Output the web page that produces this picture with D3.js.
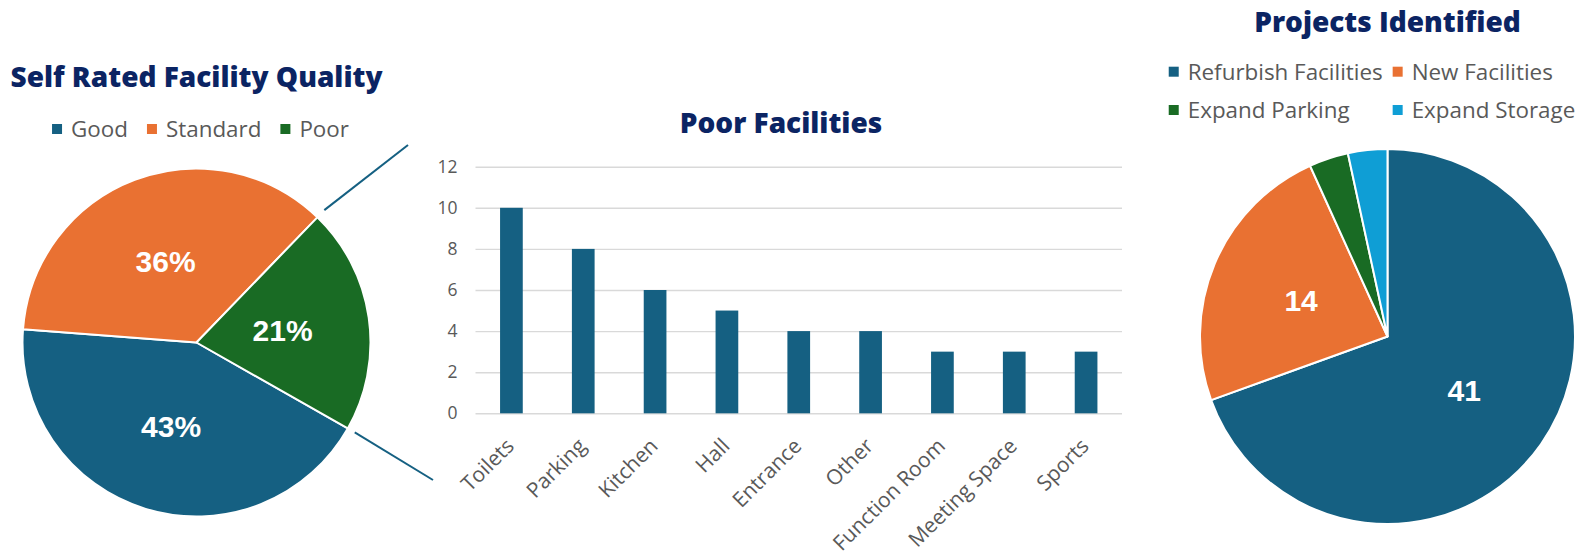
<!DOCTYPE html>
<html>
<head>
<meta charset="utf-8">
<script src="https://cdn.jsdelivr.net/npm/d3@7"></script>
<style>
  html, body { margin: 0; padding: 0; background: #ffffff; }
  svg { display: block; font-family: "Open Sans", "Noto Sans", sans-serif; }
</style>
</head>
<body>
<svg id="chart" width="1583" height="556"></svg>
<script>
// ---- Self rated facility quality (percent of respondents)
const qualityLabels = ["Good", "Standard", "Poor"];
const qualityShares = [43, 36, 21];
const qualityColors = ["#156082", "#E97132", "#196B24"];

// ---- Breakdown of facilities rated poor
const facilityNames = ["Toilets", "Parking", "Kitchen", "Hall", "Entrance", "Other", "Function Room", "Meeting Space", "Sports"];
const facilityCounts = [10, 8, 6, 5, 4, 4, 3, 3, 3];
const countTicks = [0, 2, 4, 6, 8, 10, 12];

// ---- Projects identified (number of projects)
const projectLabels = ["Refurbish Facilities", "New Facilities", "Expand Parking", "Expand Storage"];
const projectCounts = [41, 14, 2, 2];
const projectColors = ["#156082", "#E97132", "#196B24", "#0F9ED5"];

const TITLE_COLOR = "#0b2463";
const TEXT_COLOR = "#595959";
const GRID_COLOR = "#d9d9d9";
const BAR_COLOR = "#156082";
const LEGEND_SIZE = 22.4;
const deg = Math.PI / 180;

const svg = d3.select("#chart");
svg.append("rect").attr("width", 1583).attr("height", 556).attr("fill", "#fff");

function title(text, x, y) {
  svg.append("text")
    .attr("x", x).attr("y", y)
    .attr("text-anchor", "middle")
    .attr("font-size", 28).attr("font-weight", 800)
    .attr("fill", TITLE_COLOR)
    .text(text);
}

// Legend row: square swatch + label, laid out from measured text widths
function legendRow(g, labels, colors, cx, cy, gap) {
  const items = g.selectAll("g.item").data(labels).join("g").attr("class", "item");
  items.append("rect").attr("width", 10).attr("height", 10).attr("y", -5)
    .attr("fill", (d, i) => colors[i]);
  items.append("text").attr("x", 19).attr("dy", "0.36em")
    .attr("font-size", LEGEND_SIZE).attr("fill", TEXT_COLOR).text(d => d);
  const widths = [];
  items.each(function () { widths.push(19 + this.querySelector("text").getComputedTextLength()); });
  const total = d3.sum(widths) + gap * (labels.length - 1);
  let x = cx - total / 2;
  items.attr("transform", (d, i) => {
    const t = `translate(${x},${cy})`;
    x += widths[i] + gap;
    return t;
  });
}

// Two-column legend grid
function legendGrid(g, labels, colors, cx, rowYs, colGap) {
  const items = g.selectAll("g.item").data(labels).join("g").attr("class", "item");
  items.append("rect").attr("width", 10).attr("height", 10).attr("y", -5)
    .attr("fill", (d, i) => colors[i]);
  items.append("text").attr("x", 19).attr("dy", "0.36em")
    .attr("font-size", LEGEND_SIZE).attr("fill", TEXT_COLOR).text(d => d);
  const widths = [];
  items.each(function () { widths.push(19 + this.querySelector("text").getComputedTextLength()); });
  const col0 = d3.max(widths.filter((w, i) => i % 2 === 0));
  const col1 = d3.max(widths.filter((w, i) => i % 2 === 1));
  const total = col0 + colGap + col1;
  const x0 = cx - total / 2;
  items.attr("transform", (d, i) =>
    `translate(${i % 2 === 0 ? x0 : x0 + col0 + colGap},${rowYs[Math.floor(i / 2)]})`);
}

// ================= Left: Self Rated Facility Quality =================
const q = { cx: 196.5, cy: 342.5, r: 174 };
title("Self Rated Facility Quality", q.cx, 87);
legendRow(svg.append("g"), qualityLabels, qualityColors, 200.5, 129, 19);

const qStart = 119.6 * deg;
const qPie = d3.pie().sort(null).value(d => d)
  .startAngle(qStart).endAngle(qStart + 2 * Math.PI);
const qArcs = qPie(qualityShares);
const qArc = d3.arc().innerRadius(0).outerRadius(q.r);

const gq = svg.append("g").attr("transform", `translate(${q.cx},${q.cy})`);
gq.selectAll("path").data(qArcs).join("path")
  .attr("d", qArc)
  .attr("fill", (d, i) => qualityColors[i])
  .attr("stroke", "#fff").attr("stroke-width", 2).attr("stroke-linejoin", "round");

gq.selectAll("text.val").data(qArcs).join("text").attr("class", "val")
  .attr("transform", d => `translate(${qArc.centroid(d)})`)
  .attr("text-anchor", "middle").attr("dy", "0.36em")
  .attr("font-family", "'Liberation Sans', Arial, sans-serif")
  .attr("font-size", 30).attr("font-weight", 700).attr("fill", "#fff")
  .text(d => d.data + "%");

// connector lines from the "Poor" slice toward the bar chart
const poor = qArcs[2];
const edgePt = (a, rr) => [q.cx + rr * Math.sin(a), q.cy - rr * Math.cos(a)];
const connectors = [
  [edgePt(poor.startAngle, q.r + 10), [408, 145]],
  [edgePt(poor.endAngle, q.r + 8), [433, 480]]
];
svg.selectAll("line.conn").data(connectors).join("line").attr("class", "conn")
  .attr("x1", d => d[0][0]).attr("y1", d => d[0][1])
  .attr("x2", d => d[1][0]).attr("y2", d => d[1][1])
  .attr("stroke", BAR_COLOR).attr("stroke-width", 2);

// ================= Middle: Poor Facilities =================
title("Poor Facilities", 781, 133);
const plot = { x0: 475.5, x1: 1122, y0: 413.3, y1: 166.7 };
const x = d3.scaleBand().domain(facilityNames).range([plot.x0, plot.x1])
  .paddingInner(0.684).paddingOuter(0.342);
const y = d3.scaleLinear().domain([0, 12]).range([plot.y0, plot.y1]);

const yAxis = svg.append("g").attr("transform", `translate(${plot.x0},0)`)
  .call(d3.axisLeft(y).tickValues(countTicks).tickSize(-(plot.x1 - plot.x0)).tickPadding(18));
yAxis.select(".domain").remove();
yAxis.selectAll(".tick line").attr("stroke", GRID_COLOR).attr("stroke-width", 1.4);
yAxis.selectAll(".tick text").attr("font-family", "'Open Sans', sans-serif")
  .attr("font-size", 17.5).attr("fill", TEXT_COLOR);

svg.append("g").selectAll("rect").data(facilityCounts).join("rect")
  .attr("x", (d, i) => x(facilityNames[i]))
  .attr("width", x.bandwidth())
  .attr("y", d => y(d))
  .attr("height", d => y(0) - y(d))
  .attr("fill", BAR_COLOR);

const xAxis = svg.append("g").attr("transform", `translate(0,${plot.y0})`)
  .call(d3.axisBottom(x).tickSize(0));
xAxis.select(".domain").remove();
xAxis.selectAll(".tick text")
  .attr("x", 0).attr("y", 0).attr("dy", 0)
  .attr("text-anchor", "end")
  .attr("transform", "translate(4,34) rotate(-45)")
  .attr("font-family", "'Open Sans', sans-serif")
  .attr("font-size", 21).attr("fill", TEXT_COLOR);

// ================= Right: Projects Identified =================
const p = { cx: 1387.5, cy: 336.5, r: 187.5 };
title("Projects Identified", p.cx, 32);
legendGrid(svg.append("g"), projectLabels, projectColors, 1372, [71.7, 110], 10);

const pPie = d3.pie().sort(null).value(d => d);
const pArcs = pPie(projectCounts);
const pArc = d3.arc().innerRadius(0).outerRadius(p.r);
const pTotal = d3.sum(projectCounts);

const gp = svg.append("g").attr("transform", `translate(${p.cx},${p.cy})`);
gp.selectAll("path").data(pArcs).join("path")
  .attr("d", pArc)
  .attr("fill", (d, i) => projectColors[i])
  .attr("stroke", "#fff").attr("stroke-width", 2).attr("stroke-linejoin", "round");

gp.selectAll("text.val").data(pArcs.filter(d => d.data / pTotal > 0.1)).join("text").attr("class", "val")
  .attr("transform", d => `translate(${pArc.centroid(d)})`)
  .attr("text-anchor", "middle").attr("dy", "0.36em")
  .attr("font-family", "'Liberation Sans', Arial, sans-serif")
  .attr("font-size", 30).attr("font-weight", 700).attr("fill", "#fff")
  .text(d => d.data);
</script>
</body>
</html>
